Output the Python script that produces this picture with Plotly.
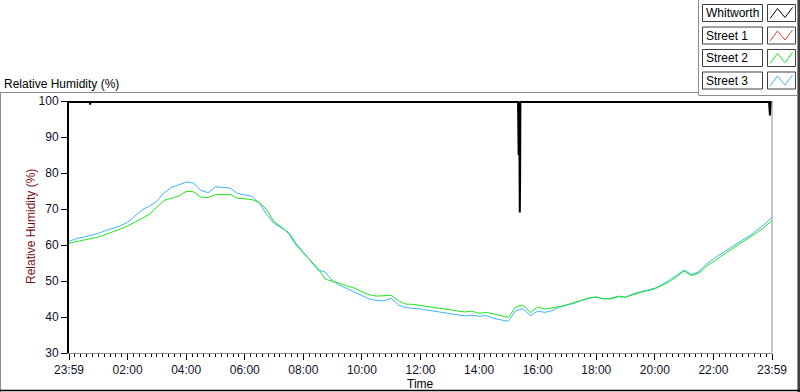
import plotly.graph_objects as go

# ---------------- data ----------------
# sampling grid: every 15 minutes from 23:59 (0 h) to 23:59 next day (24 h)
sample_hours = [i * 0.25 for i in range(97)]

street_2 = [60.5, 61.0, 61.4, 61.8, 62.2, 62.9, 63.6, 64.4, 65.3, 66.3, 67.4, 68.6,
            70.6, 72.4, 73.0, 73.6, 74.9, 74.8, 73.3, 73.2, 74.0, 74.0, 74.0, 73.0,
            72.8, 72.6, 71.8, 69.8, 66.5, 65.0, 63.2, 60.0, 57.8, 55.5, 53.5, 50.5,
            50.0, 49.3, 48.6, 48.0, 47.0, 46.2, 45.8, 45.8, 46.0, 44.5, 43.6, 43.5,
            43.2, 43.0, 42.8, 42.3, 42.0, 41.8, 41.4, 41.6, 41.0, 41.3, 40.8, 40.3,
            39.9, 42.8, 43.3, 41.2, 42.8, 42.2, 42.5, 42.9, 43.4, 44.0, 44.8, 45.3,
            45.6, 45.0, 45.2, 45.8, 45.5, 46.2, 46.8, 47.3, 47.8, 48.8, 49.8, 51.2,
            52.8, 51.5, 52.2, 54.0, 55.5, 56.8, 58.2, 59.5, 60.8, 62.0, 63.5, 65.0,
            66.8]

street_3 = [61.0, 61.8, 62.2, 62.6, 63.2, 64.0, 64.6, 65.3, 66.3, 68.0, 69.8, 70.8,
            72.2, 74.5, 76.0, 76.7, 77.5, 77.2, 75.2, 74.5, 76.2, 76.0, 75.8, 74.3,
            74.0, 73.5, 71.5, 68.5, 66.0, 64.8, 63.5, 60.5, 58.0, 55.3, 53.0, 52.5,
            50.0, 48.8, 47.8, 47.0, 46.0, 45.0, 44.6, 44.5, 45.2, 43.3, 42.6, 42.5,
            42.2, 41.9, 41.6, 41.2, 40.8, 40.6, 40.3, 40.5, 40.2, 40.4, 39.6, 39.2,
            38.8, 41.8, 42.3, 40.4, 41.6, 41.3, 41.8, 42.8, 43.2, 43.8, 44.6, 45.2,
            45.5, 45.1, 45.0, 45.6, 45.5, 46.4, 47.0, 47.5, 48.0, 49.0, 50.2, 51.6,
            53.0, 51.8, 52.6, 54.6, 56.2, 57.5, 59.0, 60.2, 61.4, 62.6, 64.3, 65.8,
            67.8]

street_1_hours = []   # no visible red trace in the reference
street_1 = []

whitworth_hours = [0.0, 0.71, 0.72, 0.73, 15.33, 15.35, 15.37, 15.38, 15.39, 15.40,
                   15.41, 23.90, 23.93, 23.96, 24.0]
whitworth = [99.7, 99.7, 99.0, 99.7, 99.7, 85.0, 99.7, 78.0, 69.0, 78.0,
             99.7, 99.7, 96.0, 99.7, 99.7]

series_names = ["Whitworth", "Street 1", "Street 2", "Street 3"]
series_colors = ["#000000", "#ff3b3b", "#1ee61e", "#3cb4ff"]

x_tickvals = [0, 2, 4, 6, 8, 10, 12, 14, 16, 18, 20, 22, 24]
x_ticktext = ["23:59", "02:00", "04:00", "06:00", "08:00", "10:00", "12:00",
              "14:00", "16:00", "18:00", "20:00", "22:00", "23:59"]
y_tickvals = [30, 40, 50, 60, 70, 80, 90, 100]

# ---------------- layout geometry ----------------
W, H = 800, 392
L, R, T, B = 69, 772, 101, 353
FONT = "Liberation Sans, Arial, sans-serif"


def px(x):
    return (x - L) / (R - L)


def py(y):
    return (B - y) / (B - T)


fig = go.Figure()

fig.add_trace(go.Scatter(x=sample_hours, y=street_3, mode="lines", name=series_names[3],
                         line=dict(color=series_colors[3], width=1), showlegend=False))
fig.add_trace(go.Scatter(x=sample_hours, y=street_2, mode="lines", name=series_names[2],
                         line=dict(color=series_colors[2], width=1), showlegend=False))
fig.add_trace(go.Scatter(x=street_1_hours, y=street_1, mode="lines", name=series_names[1],
                         line=dict(color=series_colors[1], width=1), showlegend=False))
fig.add_trace(go.Scatter(x=whitworth_hours, y=whitworth, mode="lines", name=series_names[0],
                         line=dict(color=series_colors[0], width=2), showlegend=False))

shapes = []
annotations = []

# plot right border (grey)
shapes.append(dict(type="line", xref="paper", yref="paper", x0=1, x1=1, y0=0, y1=1,
                   line=dict(color="#8c8c8c", width=1)))


def hline(x0, x1, y, color, width=1):
    shapes.append(dict(type="line", xref="paper", yref="paper", x0=px(x0), x1=px(x1),
                       y0=py(y), y1=py(y), line=dict(color=color, width=width)))


def vline(x, y0, y1, color, width=1):
    shapes.append(dict(type="line", xref="paper", yref="paper", x0=px(x), x1=px(x),
                       y0=py(y0), y1=py(y1), line=dict(color=color, width=width)))


# outer panel frame lines
hline(0, 698.5, 92.5, "#8c8c8c")
vline(698.5, 0, 95, "#8c8c8c")
hline(698.5, 797, 95.5, "#8c8c8c")
vline(0.5, 92.5, 392, "#8c8c8c")
vline(797.5, 0, 392, "#8c8c8c")
vline(799, 0, 392, "#000000", 1.5)
hline(0, 800, 390.5, "#000000", 1.5)

# custom legend
row_top = [4.5, 27, 49.5, 72]
for name, color, top in zip(series_names, series_colors, row_top):
    shapes.append(dict(type="rect", xref="paper", yref="paper",
                       x0=px(702.5), x1=px(762.5), y0=py(top), y1=py(top + 17),
                       line=dict(color="#404040", width=1), fillcolor="white"))
    shapes.append(dict(type="rect", xref="paper", yref="paper",
                       x0=px(767.5), x1=px(795.5), y0=py(top), y1=py(top + 17),
                       line=dict(color="#404040", width=1), fillcolor="white"))
    path = "M {:.4f},{:.4f} L {:.4f},{:.4f} L {:.4f},{:.4f} L {:.4f},{:.4f}".format(
        px(770), py(top + 14), px(777.5), py(top + 4), px(785), py(top + 13),
        px(792.5), py(top + 3))
    shapes.append(dict(type="path", xref="paper", yref="paper", path=path,
                       line=dict(color=color, width=1)))
    annotations.append(dict(text=name, xref="paper", yref="paper", x=px(704),
                            y=py(top + 8.5), xanchor="left", yanchor="middle",
                            showarrow=False, font=dict(family=FONT, size=12, color="#000000")))

# top-left title
annotations.append(dict(text="Relative Humidity (%)", xref="paper", yref="paper",
                        x=px(2), y=py(84), xanchor="left", yanchor="middle",
                        showarrow=False, font=dict(family=FONT, size=12, color="#000000")))
# y axis title
annotations.append(dict(text="Relative Humidity (%)", xref="paper", yref="paper",
                        x=px(31), y=0.5, xanchor="center", yanchor="middle", textangle=-90,
                        showarrow=False, font=dict(family=FONT, size=12, color="#7a1010")))
# x axis title
annotations.append(dict(text="Time", xref="paper", yref="paper",
                        x=0.5, y=py(384), xanchor="center", yanchor="middle",
                        showarrow=False, font=dict(family=FONT, size=12, color="#000000")))

fig.update_layout(
    width=W, height=H,
    margin=dict(l=L, r=W - R, t=T, b=H - B, pad=0),
    paper_bgcolor="white", plot_bgcolor="white",
    shapes=shapes, annotations=annotations,
    showlegend=False,
    xaxis=dict(range=[0, 24], tickmode="array", tickvals=x_tickvals, ticktext=x_ticktext,
               ticks="outside", ticklen=6, tickwidth=1, tickcolor="#000000",
               showline=True, linecolor="#8c8c8c", linewidth=1,
               showgrid=False, zeroline=False, automargin=False,
               tickfont=dict(family=FONT, size=12, color="#101028"),
               minor=dict(tickmode="linear", tick0=0, dtick=0.2, ticks="outside",
                          ticklen=3, tickcolor="#000000", showgrid=False)),
    yaxis=dict(range=[30, 100], tickmode="array", tickvals=y_tickvals,
               ticks="outside", ticklen=6, tickwidth=1, tickcolor="#000000",
               showline=True, linecolor="#000000", linewidth=2,
               showgrid=False, zeroline=False, automargin=False,
               tickfont=dict(family=FONT, size=12, color="#101028")),
)

fig.write_html("out.html", config={"displayModeBar": False},
               post_script="document.body.style.margin='0px';document.body.style.overflow='hidden';")
